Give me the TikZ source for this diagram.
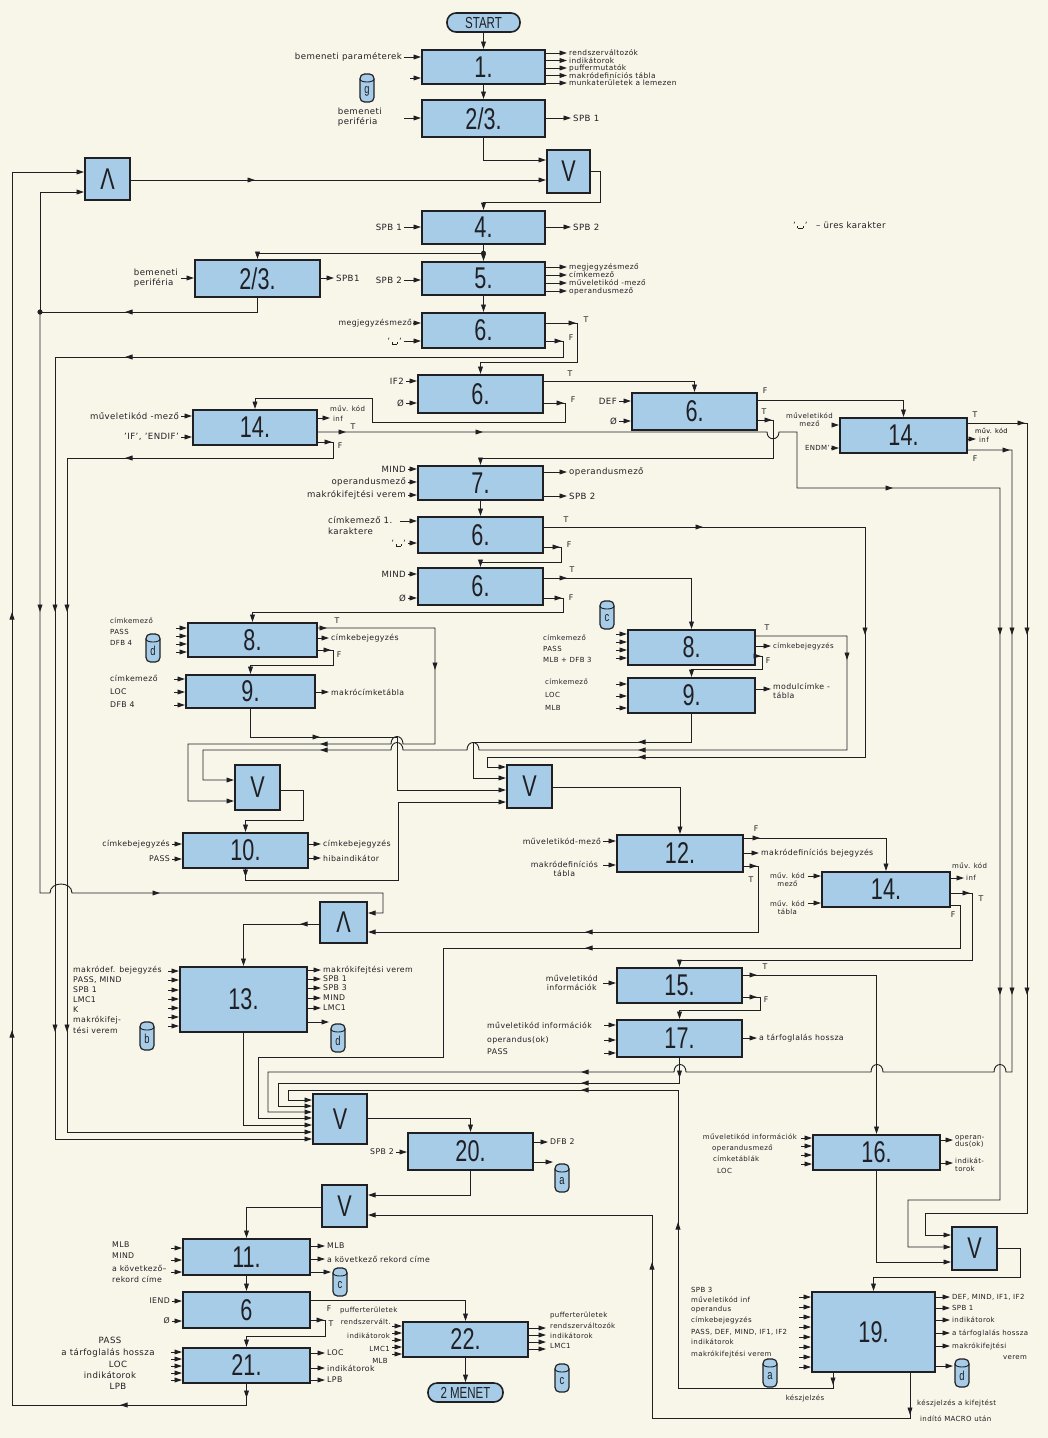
\documentclass[tikz,border=0pt]{standalone}
\usepackage{fontspec}
\setmainfont{DejaVu Sans}[LetterSpace=5]
\newfontfamily\numfont{Liberation Sans}[FakeStretch=0.72]
\usetikzlibrary{arrows.meta}
\definecolor{paper}{RGB}{248,245,233}
\definecolor{boxblue}{RGB}{166,204,231}
\definecolor{ink}{RGB}{32,32,36}
\newcommand\blank{\rule{.5pt}{2.5pt}\rule{5pt}{.5pt}\rule{.5pt}{2.5pt}}
\newcommand\blq{'\,\blank\,'}
\newcommand\bx[6]{\node[box,minimum width={(#4-#2)*1pt},minimum height={(#5-#3)*1pt}] (#1) at ({(#2+#4)/2},{(#3+#5)/2}) {#6};}
\newcommand\inp[4]{\draw[arr] (#3,#2) -- (#1.west |- 0,#2); \node[lab,anchor=east] at ({#3-2},#2) {#4};}
\newcommand\ins[4]{\draw[arr] (#3,#2) -- (#1.west |- 0,#2); \node[sml,anchor=east] at ({#3-2},#2) {#4};}
\newcommand\ina[3]{\draw[arr] (#3,#2) -- (#1.west |- 0,#2);}
\newcommand\outp[4]{\draw[arr] (#1.east |- 0,#2) -- (#3,#2); \node[lab,anchor=west] at ({#3+2},#2) {#4};}
\newcommand\outs[4]{\draw[arr] (#1.east |- 0,#2) -- (#3,#2); \node[sml,anchor=west] at ({#3+2},#2) {#4};}
\newcommand\outt[4]{\draw[arr] (#1.east |- 0,#2) -- (#3,#2); \node[tny,anchor=west] at ({#3+2},#2) {#4};}
\newcommand\outa[3]{\draw[arr] (#1.east |- 0,#2) -- (#3,#2);}
\newcommand\ahr[2]{\draw[arr] ({#1-6},#2) -- (#1,#2);}
\newcommand\ahl[2]{\draw[arr] ({#1+6},#2) -- (#1,#2);}
\newcommand\ahd[2]{\draw[arr] (#1,{#2-6}) -- (#1,#2);}
\newcommand\ahu[2]{\draw[arr] (#1,{#2+6}) -- (#1,#2);}
\newcommand\tf[3]{\node[sml] at (#1,#2) {#3};}
\newcommand\cyl[4]{%
  \draw[draw=ink,line width=1.2pt,fill=boxblue,rounded corners=4.5pt] ({#1-7},{#2-14}) rectangle ({#1+7},{#2+14});
  \draw[draw=ink,line width=0.9pt] ({#1-7},{#2-9}) .. controls ({#1-7},{#2-5}) and ({#1+7},{#2-5}) .. ({#1+7},{#2-9});
  \node[font=\numfont\fontsize{13}{13}\selectfont,text=ink,inner sep=0pt] (#4) at (#1,{#2+3}) {#3};}
\begin{document}
\begin{tikzpicture}[x=1pt,y=-1pt,
 ln/.style={draw=ink,line width=0.9pt},
 arr/.style={ln,-{Triangle[length=7.5pt,width=4.8pt]}},
 box/.style={draw=ink,line width=2pt,fill=boxblue,inner sep=0pt,font=\numfont\fontsize{30}{30}\selectfont,text=ink},
 term/.style={draw=ink,line width=1.6pt,fill=boxblue,rounded corners=9pt,inner sep=0pt,font=\numfont\fontsize{16}{16}\selectfont,text=ink},
 lab/.style={font=\fontsize{8.6}{9.6}\selectfont,inner sep=0pt,text=ink},
 sml/.style={font=\fontsize{7.8}{8.6}\selectfont,inner sep=0pt,text=ink},
 tny/.style={font=\fontsize{7}{7.6}\selectfont,inner sep=0pt,text=ink}]
\useasboundingbox (0,0) rectangle (1048,1438);
\fill[paper] (0,0) rectangle (1048,1438);

% ---------- boxes ----------
\node[term,minimum width=73pt,minimum height=19pt] (start) at (483.5,22.5) {START};
\bx{b1}{422}{50}{545}{84}{1.}
\bx{b23}{422}{100}{545}{137}{2/3.}
\bx{vA}{547}{150}{590}{193}{V}
\bx{b4}{422}{211}{545}{244}{4.}
\bx{b5}{422}{262}{545}{295}{5.}
\bx{b6a}{422}{313}{545}{348}{6.}
\bx{lamT}{85}{158}{130}{200}{Λ}
\bx{b23L}{195}{260}{320}{297}{2/3.}
\bx{b6b}{418}{375}{543}{413}{6.}
\bx{b6c}{632}{393}{757}{430}{6.}
\bx{b14a}{193}{410}{317}{445}{14.}
\bx{b14b}{840}{418}{967}{453}{14.}
\bx{b7}{418}{466}{543}{500}{7.}
\bx{b6d}{418}{517}{543}{553}{6.}
\bx{b6e}{418}{568}{543}{605}{6.}
\bx{b8a}{188}{623}{317}{657}{8.}
\bx{b9a}{186}{675}{315}{708}{9.}
\bx{b8b}{628}{630}{755}{665}{8.}
\bx{b9b}{628}{678}{755}{713}{9.}
\bx{vL}{235}{765}{280}{810}{V}
\bx{vC}{507}{765}{552}{808}{V}
\bx{b10}{183}{833}{308}{868}{10.}
\bx{b12}{617}{835}{743}{872}{12.}
\bx{b14c}{822}{872}{950}{907}{14.}
\bx{lamM}{320}{902}{367}{943}{Λ}
\bx{b13}{180}{967}{307}{1032}{13.}
\bx{b15}{617}{968}{742}{1003}{15.}
\bx{b17}{617}{1020}{742}{1057}{17.}
\bx{vB}{313}{1094}{367}{1144}{V}
\bx{b20}{408}{1133}{533}{1170}{20.}
\bx{b16}{813}{1135}{940}{1170}{16.}
\bx{vD}{322}{1185}{367}{1227}{V}
\bx{vR}{952}{1227}{997}{1270}{V}
\bx{b11}{183}{1239}{310}{1275}{11.}
\bx{b6f}{183}{1292}{310}{1328}{6}
\bx{b19}{812}{1292}{935}{1372}{19.}
\bx{b22}{403}{1322}{528}{1357}{22.}
\bx{b21}{183}{1348}{310}{1383}{21.}
\node[term,minimum width=75pt,minimum height=19pt] (menet) at (465.5,1392.5) {2 MENET};

% ---------- cylinders ----------
\cyl{367}{88}{g}{cg}
\cyl{153}{648}{d}{cd1}
\cyl{607}{615}{c}{cc1}
\cyl{147}{1036}{b}{cb}
\cyl{338}{1038}{d}{cd2}
\cyl{340}{1282}{c}{cc2}
\cyl{562}{1178}{a}{ca1}
\cyl{562}{1378}{c}{cc3}
\cyl{770}{1373}{a}{ca2}
\cyl{962}{1373}{d}{cd3}

% ---------- legend ----------
\node[lab,anchor=west] (leg) at (793,225) {\blq\quad – üres karakter};

% ---------- top column ----------
\draw[arr] (start.south) -- (b1.north);
\inp{b1}{57}{404}{bemeneti paraméterek}
\ina{b1}{78}{410}
\foreach \yy/\ll in {53/rendszerváltozók,60.5/indikátorok,68/puffermutatók,75.5/makródefiníciós tábla,83/munkaterületek a lemezen}
 {\draw[arr] (b1.east |- 0,\yy) -- (567,\yy); \node[font=\fontsize{7.4}{7.6}\selectfont,inner sep=0pt,text=ink,anchor=west] at (569,\yy) {\ll};}
\draw[arr] (b1.south) -- (b23.north);
\ina{b23}{118}{404}
\node[lab,anchor=east,align=left] at (382,117) {bemeneti\\periféria};
\outp{b23}{118}{571}{SPB 1}
\draw[arr] (b23.south) -- (b23.south |- 0,160) -- (vA.west |- 0,160);
\draw[arr] (lamT.east |- 0,180) -- (vA.west |- 0,180);
\ahr{255}{180}
\draw[arr] (vA.east |- 0,171) -- (600,171) -- (600,202) -- (b4.north |- 0,202) -- (b4.north);
\inp{b4}{227}{404}{SPB 1}
\outp{b4}{227}{571}{SPB 2}
\draw[arr] (b4.south) -- (b5.north);
\draw[arr] (b4.south |- 0,253) -- (b23L.north |- 0,253) -- (b23L.north);
\fill[ink] (b4.south |- 0,253) circle (2.4pt);
\ina{b23L}{278}{181}
\node[lab,anchor=east,align=left] at (178,278) {bemeneti\\periféria};
\outp{b23L}{278}{334}{SPB1}
\draw[ln] (b23L.south) -- (b23L.south |- 0,312) -- (40,312);
\ahl{125}{312}
\fill[ink] (40,312) circle (2.6pt);
\draw[arr] (40,312) -- (40,192) -- (lamT.west |- 0,192);
\draw[arr] (40,312) -- (40,893) -- (50,893) .. controls (50,881) and (72,881) .. (72,893) -- (383,893) -- (383,913) -- (lamM.east |- 0,913);
\ahd{40}{612} \ahr{160}{893}
\draw[arr] (b21.south) -- (b21.south |- 0,1405) -- (12,1405) -- (12,172) -- (lamT.west |- 0,172);
\ahd{246.5}{1398} \ahl{120}{1405} \ahu{12}{612} \ahu{12}{1030}

\inp{b5}{280}{404}{SPB 2}
\foreach \yy/\ll in {267/megjegyzésmező,275/címkemező,283/műveletikód -mező,291/operandusmező}
 {\draw[arr] (b5.east |- 0,\yy) -- (567,\yy); \node[font=\fontsize{7.4}{7.6}\selectfont,inner sep=0pt,text=ink,anchor=west] at (569,\yy) {\ll};}
\draw[arr] (b5.south) -- (b6a.north);
\draw[arr] (413,323) -- (b6a.west |- 0,323); \node[sml,anchor=east] at (412,323) {megjegyzésmező};
\inp{b6a}{341}{404}{\blq}
\draw[arr] (b6a.east |- 0,323) -- (577,323) -- (577,362) -- (b6b.north |- 0,362) -- (b6b.north);
\ahr{576}{323} \tf{586}{320}{T}
\draw[arr] (b6a.east |- 0,341) -- (563,341) -- (563,357) -- (55,357) -- (55,1139) -- (vB.west |- 0,1139);
\ahr{562}{341} \tf{571}{338}{F}
\ahl{125}{357} \ahd{55}{612} \ahd{55}{1032}

% ---------- 6b / 6c / 14a / 14b ----------
\inp{b6b}{381}{406}{IF2}
\inp{b6b}{403}{406}{Ø}
\draw[arr] (b6b.east |- 0,381) -- (b6c.north |- 0,381) -- (b6c.north);
\tf{570}{374}{T}
\draw[arr] (b6b.east |- 0,403) -- (565,403) -- (565,422) -- (372,422) -- (372,398) -- (b14a.north |- 0,398) -- (b14a.north);
\ahr{564}{403} \tf{573}{400}{F}

\inp{b6c}{401}{619}{DEF}
\inp{b6c}{421}{619}{Ø}
\draw[arr] (b6c.east |- 0,400) -- (b14b.north |- 0,400) -- (b14b.north);
\tf{765}{391}{F}
\draw[arr] (b6c.east |- 0,420) -- (773,420) -- (773,458) -- (b7.north |- 0,458) -- (b7.north);
\ahr{772}{420} \tf{764}{412}{T}

\draw[arr] (833,425) -- (b14b.west |- 0,425);
\node[tny,align=center,anchor=east] at (833,420) {műveletikód\\mező};
\draw[arr] (831,448) -- (b14b.west |- 0,448);
\node[tny,anchor=east] at (830,448) {ENDM'};
\draw[arr] (b14b.east |- 0,423) -- (1027,423) -- (1027,1213) -- (925,1213) -- (925,1235) -- (vR.west |- 0,1235);
\ahr{1025}{423} \tf{975}{415}{T}
\ahd{1027}{635} \ahd{1027}{995}
\draw[arr] (b14b.east |- 0,439) -- (976,439);
\node[font=\fontsize{6.5}{7}\selectfont,inner sep=0pt,anchor=west] at (975,431) {műv. kód};
\node[tny,anchor=west] at (979,440) {inf};
\draw[arr] (b14b.east |- 0,450) -- (1012,450) -- (1012,1072) -- (1006,1072) .. controls (1006,1062) and (994,1062) .. (994,1072) -- (883,1072) .. controls (883,1062) and (871,1062) .. (871,1072) -- (686,1072) .. controls (686,1062) and (674,1062) .. (674,1072) -- (268,1072) -- (268,1112) -- (vB.west |- 0,1112);
\ahr{1010}{450} \tf{975}{459}{F}
\ahd{1012}{635} \ahd{1012}{995} \ahl{581}{1072}

\inp{b14a}{416}{181}{műveletikód -mező}
\inp{b14a}{437}{181}{'IF', 'ENDIF'}
\draw[arr] (b14a.east |- 0,418) -- (330,418);
\node[tny,anchor=west] at (330,409) {műv. kód};
\node[tny,anchor=west] at (333,419) {inf};
\draw[arr] (b14a.east |- 0,432) -- (767,432) .. controls (767,441) and (779,441) .. (779,432) -- (797,432) -- (797,488) -- (1000,488) -- (1000,1200) -- (908,1200) -- (908,1247) -- (vR.west |- 0,1247);
\ahr{346}{432} \tf{353}{427}{T}
\ahr{483}{432} \ahr{893}{488} \ahd{1000}{635} \ahd{1000}{995}
\draw[arr] (b14a.east |- 0,442) -- (333,442) -- (333,458) -- (67,458) -- (67,1132) -- (vB.west |- 0,1132);
\ahr{332}{442} \tf{340}{446}{F}
\ahl{125}{458} \ahd{67}{612} \ahd{67}{1032}

% ---------- 7 / 6d / 6e ----------
\inp{b7}{469}{408}{MIND}
\inp{b7}{482}{408}{operandusmező}
\inp{b7}{495}{408}{makrókifejtési verem}
\outp{b7}{472}{567}{operandusmező}
\outp{b7}{496}{567}{SPB 2}
\draw[arr] (b7.south) -- (b6d.north);

\ina{b6d}{521}{400}
\node[lab,anchor=west] at (328,520) {címkemező 1.};
\node[lab,anchor=west] at (328,531) {karaktere};
\inp{b6d}{543}{408}{\blq}
\draw[arr] (b6d.east |- 0,527) -- (865,527) -- (865,757) -- (487,757) -- (487,767) -- (vC.west |- 0,767);
\tf{566}{520}{T} \ahr{703}{527} \ahd{865}{635} \ahl{638}{757}
\draw[arr] (b6d.east |- 0,547) -- (561,547) -- (561,562) -- (b6e.north |- 0,562) -- (b6e.north);
\ahr{560}{547} \tf{569}{545}{F}

\inp{b6e}{574}{408}{MIND}
\inp{b6e}{598}{408}{Ø}
\draw[arr] (b6e.east |- 0,578) -- (b8b.north |- 0,578) -- (b8b.north);
\ahr{567}{578} \tf{572}{570}{T}
\draw[arr] (b6e.east |- 0,598) -- (563,598) -- (563,612) -- (b8a.north |- 0,612) -- (b8a.north);
\ahr{562}{598} \tf{571}{598}{F}

% ---------- 8 / 9 left ----------
\foreach \yy in {628,636,644,652} {\draw[arr] (176,\yy) -- (b8a.west |- 0,\yy);}
\node[tny,anchor=west] at (110,621) {címkemező};
\node[tny,anchor=west] at (110,632) {PASS};
\node[tny,anchor=west] at (110,643) {DFB 4};
\draw[arr] (b8a.east |- 0,628) -- (435,628) -- (435,744) -- (403,744) .. controls (403,734) and (391,734) .. (391,744) -- (188,744) -- (188,801) -- (vL.west |- 0,801);
\ahr{327}{628} \tf{337}{621}{T} \ahd{435}{670} \ahl{320}{744}
\outs{b8a}{638}{329}{címkebejegyzés}
\draw[arr] (b8a.east |- 0,650) -- (333,650) -- (333,665) -- (b9a.north |- 0,665) -- (b9a.north);
\ahr{331}{650} \tf{339}{655}{F}
\foreach \yy in {679,692,705} {\draw[arr] (174,\yy) -- (b9a.west |- 0,\yy);}
\node[sml,anchor=west] at (110,678) {címkemező};
\node[sml,anchor=west] at (110,692) {LOC};
\node[sml,anchor=west] at (110,705) {DFB 4};
\outs{b9a}{692}{329}{makrócímketábla}
\draw[arr] (b9a.south) -- (b9a.south |- 0,737) -- (397,737) -- (397,790) -- (vC.west |- 0,790);
\ahr{320}{737}

% ---------- 8 / 9 right ----------
\foreach \yy in {634,642,650,658} {\draw[arr] (616,\yy) -- (b8b.west |- 0,\yy);}
\node[tny,anchor=west] at (543,638) {címkemező};
\node[tny,anchor=west] at (543,649) {PASS};
\node[tny,anchor=west] at (543,660) {MLB + DFB 3};
\draw[arr] (b8b.east |- 0,636) -- (847,636) -- (847,750) -- (479,750) .. controls (479,740) and (467,740) .. (467,750) -- (403,750) .. controls (403,740) and (391,740) .. (391,750) -- (203,750) -- (203,780) -- (vL.west |- 0,780);
\tf{767}{628}{T} \ahd{847}{660} \ahl{638}{750} \ahl{320}{750}
\outt{b8b}{646}{771}{címkebejegyzés}
\draw[arr] (b8b.east |- 0,656) -- (762,656) -- (762,669) -- (b9b.north |- 0,669) -- (b9b.north);
\ahr{761}{656} \tf{768}{661}{F}
\foreach \yy in {684,696,708} {\draw[arr] (616,\yy) -- (b9b.west |- 0,\yy);}
\node[tny,anchor=west] at (545,682) {címkemező};
\node[tny,anchor=west] at (545,695) {LOC};
\node[tny,anchor=west] at (545,708) {MLB};
\outa{b9b}{689}{771}
\node[sml,anchor=north west,align=left] at (773,683) {modulcímke -\\tábla};
\draw[arr] (b9b.south) -- (b9b.south |- 0,742) -- (473,742) -- (473,778) -- (vC.west |- 0,778);
\ahl{638}{742}

% ---------- V left / 10 / V center / 12 ----------
\draw[arr] (vL.east |- 0,790) -- (303,790) -- (303,820) -- (b10.north |- 0,820) -- (b10.north);
\ins{b10}{844}{172}{címkebejegyzés}
\ins{b10}{859}{172}{PASS}
\outs{b10}{844}{321}{címkebejegyzés}
\outs{b10}{858}{321}{hibaindikátor}
\draw[arr] (b10.south) -- (b10.south |- 0,880) -- (398,880) -- (398,802) -- (vC.west |- 0,802);
\ahd{245.5}{877}
\draw[arr] (vC.east |- 0,787) -- (b12.north |- 0,787) -- (b12.north);

\ins{b12}{841}{603}{műveletikód-mező}
\ina{b12}{865}{603}
\node[sml,align=center,anchor=east] at (598,869) {makródefiníciós\\tábla};
\draw[arr] (b12.east |- 0,838) -- (b14c.north |- 0,838) -- (b14c.north);
\ahr{760}{838} \tf{756}{829}{F}
\outs{b12}{853}{759}{makródefiníciós bejegyzés}
\draw[arr] (b12.east |- 0,866) -- (758,866) -- (758,932) -- (lamM.east |- 0,932);
\ahr{757}{866} \tf{751}{880}{T} \ahl{585}{932}

\ina{b14c}{876}{808}
\node[tny,align=center,anchor=east] at (805,880) {műv. kód\\mező};
\ina{b14c}{903}{808}
\node[tny,align=center,anchor=east] at (805,908) {műv. kód\\tábla};
\draw[arr] (b14c.east |- 0,878) -- (964,878);
\node[tny,anchor=west] at (966,878) {inf};
\node[tny,anchor=west] at (952,866) {műv. kód};
\draw[arr] (b14c.east |- 0,893) -- (972,893) -- (972,960) -- (b15.north |- 0,960) -- (b15.north);
\ahr{970}{893} \tf{981}{899}{T}
\draw[arr] (b14c.east |- 0,905) -- (960,905) -- (960,948) -- (443,948) -- (443,1057) -- (258,1057) -- (258,1118) -- (vB.west |- 0,1118);
\tf{953}{915}{F} \ahl{585}{948}

% ---------- Lambda mid / 13 ----------
\draw[arr] (lamM.west |- 0,924) -- (b13.north |- 0,924) -- (b13.north);
\ahl{300}{924}
\foreach \yy in {971,980,990,999,1008,1017,1026} {\draw[arr] (168,\yy) -- (b13.west |- 0,\yy);}
\node[sml,anchor=west] at (73,970) {makródef. bejegyzés};
\node[sml,anchor=west] at (73,980) {PASS, MIND};
\node[sml,anchor=west] at (73,990) {SPB 1};
\node[sml,anchor=west] at (73,1000) {LMC1};
\node[sml,anchor=west] at (73,1010) {K};
\node[sml,anchor=west] at (73,1020) {makrókifej-};
\node[sml,anchor=west] at (73,1030) {tési verem};
\outs{b13}{970}{321}{makrókifejtési verem}
\outs{b13}{979}{321}{SPB 1}
\outs{b13}{988}{321}{SPB 3}
\outs{b13}{998}{321}{MIND}
\outs{b13}{1008}{321}{LMC1}
\outa{b13}{1022}{329}
\draw[arr] (b13.south) -- (b13.south |- 0,1125) -- (vB.west |- 0,1125);

% ---------- 15 / 17 ----------
\ina{b15}{983}{603}
\node[sml,align=center,anchor=east] at (598,983) {műveletikód\\információk};
\draw[arr] (b15.east |- 0,975) -- (b16.north |- 0,975) -- (b16.north);
\ahr{757}{975} \tf{765}{967}{T}
\draw[arr] (b15.east |- 0,997) -- (760,997) -- (760,1010) -- (b17.north |- 0,1010) -- (b17.north);
\ahr{757}{997} \tf{766}{1000}{F}
\foreach \yy in {1025,1040,1053} {\draw[arr] (604,\yy) -- (b17.west |- 0,\yy);}
\node[sml,anchor=west] at (487,1025) {műveletikód információk};
\node[sml,anchor=west] at (487,1040) {operandus(ok)};
\node[sml,anchor=west] at (487,1052) {PASS};
\outs{b17}{1038}{757}{a tárfoglalás hossza}
\draw[arr] (b17.south) -- (b17.south |- 0,1083) -- (278,1083) -- (278,1106) -- (vB.west |- 0,1106);
\ahd{679.5}{1078} \ahl{581}{1083}

% ---------- V bottom / 20 / V2 ----------
\draw[arr] (vB.east |- 0,1118) -- (b20.north |- 0,1118) -- (b20.north);
\ins{b20}{1152}{396}{SPB 2}
\outs{b20}{1142}{548}{DFB 2}
\outa{b20}{1162}{553}
\draw[arr] (b20.south) -- (b20.south |- 0,1195) -- (vD.east |- 0,1195);
\draw[arr] (vD.west |- 0,1207) -- (b11.north |- 0,1207) -- (b11.north);

% ---------- 11 / 6 / 21 / 22 ----------
\foreach \yy in {1248,1260,1272} {\draw[arr] (171,\yy) -- (b11.west |- 0,\yy);}
\node[sml,anchor=west] at (112,1245) {MLB};
\node[sml,anchor=west] at (112,1256) {MIND};
\node[sml,anchor=west] at (112,1268) {a következő–};
\node[sml,anchor=west] at (112,1279) {rekord címe};
\outs{b11}{1246}{325}{MLB}
\outs{b11}{1259}{325}{a következő rekord címe}
\outa{b11}{1272}{331}
\draw[arr] (b11.south) -- (b6f.north);
\ins{b6f}{1301}{172}{IEND}
\ins{b6f}{1321}{172}{Ø}
\draw[arr] (b6f.east |- 0,1300) -- (b22.north |- 0,1300) -- (b22.north);
\tf{329}{1309}{F}
\draw[arr] (b6f.east |- 0,1320) -- (325,1320) -- (325,1336) -- (b21.north |- 0,1336) -- (b21.north);
\ahr{324}{1320} \tf{331}{1324}{T}
\foreach \yy in {1352,1359,1366,1373,1380} {\draw[arr] (171,\yy) -- (b21.west |- 0,\yy);}
\node[lab,align=center] at (110,1340) {PASS};
\node[lab,align=center] at (108,1353) {a tárfoglalás hossza};
\node[lab,align=center] at (118,1364) {LOC};
\node[lab,align=center] at (110,1375) {indikátorok};
\node[lab,align=center] at (118,1386) {LPB};
\outs{b21}{1353}{325}{LOC}
\outs{b21}{1368}{325}{indikátorok}
\outs{b21}{1380}{325}{LPB}
\foreach \yy in {1326,1333,1340,1347,1354} {\draw[arr] (392,\yy) -- (b22.west |- 0,\yy);}
\node[tny,anchor=west] at (340,1311) {pufferterületek};
\node[tny,anchor=east] at (391,1322) {rendszervált.};
\node[tny,anchor=east] at (390,1336) {indikátorok};
\node[tny,anchor=east] at (390,1349) {LMC1};
\node[tny,anchor=east] at (388,1361) {MLB};
\foreach \yy in {1328,1335,1342,1349} {\draw[arr] (b22.east |- 0,\yy) -- (546,\yy);}
\node[tny,anchor=west] at (550,1316) {pufferterületek};
\node[tny,anchor=west] at (550,1326) {rendszerváltozók};
\node[tny,anchor=west] at (550,1336) {indikátorok};
\node[tny,anchor=west] at (550,1346) {LMC1};
\draw[arr] (b22.south) -- (menet.north);

% ---------- 16 / V right / 19 ----------
\foreach \yy in {1138,1146,1155,1164} {\draw[arr] (801,\yy) -- (b16.west |- 0,\yy);}
\node[tny,anchor=east] at (797,1137) {műveletikód információk};
\node[tny,anchor=west] at (712,1148) {operandusmező};
\node[tny,anchor=west] at (713,1159) {címketáblák};
\node[tny,anchor=west] at (717,1171) {LOC};
\outa{b16}{1140}{953}
\node[tny,anchor=north west,align=left] at (955,1135) {operan-\\dus(ok)};
\outa{b16}{1163}{953}
\node[tny,anchor=north west,align=left] at (955,1158) {indikát-\\torok};
\draw[arr] (b16.south) -- (b16.south |- 0,1262) -- (vR.west |- 0,1262);
\draw[arr] (vR.east |- 0,1248) -- (1020,1248) -- (1020,1277) -- (b19.north |- 0,1277) -- (b19.north);
\foreach \yy in {1297,1307,1317,1327,1337,1347,1357,1367} {\draw[arr] (799,\yy) -- (b19.west |- 0,\yy);}
\node[tny,anchor=west] at (691,1290) {SPB 3};
\node[tny,anchor=west] at (691,1300) {műveletikód inf};
\node[tny,anchor=west] at (691,1310) {operandus};
\node[tny,anchor=west] at (691,1320) {címkebejegyzés};
\node[tny,anchor=west] at (691,1332) {PASS, DEF, MIND, IF1, IF2};
\node[tny,anchor=west] at (691,1342) {indikátorok};
\node[tny,anchor=west] at (691,1354) {makrókifejtési verem};
\outt{b19}{1297}{950}{DEF, MIND, IF1, IF2}
\outt{b19}{1308}{950}{SPB 1}
\outt{b19}{1320}{950}{indikátorok}
\outt{b19}{1333}{950}{a tárfoglalás hossza}
\outt{b19}{1346}{950}{makrókifejtési}
\node[tny,anchor=west] at (1003,1358) {verem};
\outa{b19}{1366}{953}
\draw[arr] (b19.south -| 833,0) -- (833,1388) -- (678,1388) -- (678,1090) -- (288,1090) -- (288,1100) -- (vB.west |- 0,1100);
\ahd{833}{1385} \ahu{678}{1222} \ahl{581}{1090}
\draw[arr] (b19.south -| 910,0) -- (910,1418) -- (652,1418) -- (652,1215) -- (vD.east |- 0,1215);
\ahd{910}{1415} \ahu{652}{1262}
\node[tny] at (805,1398) {készjelzés};
\node[tny,anchor=west] at (917,1403) {készjelzés a kifejtést};
\node[tny,anchor=west] at (920,1419) {indító MACRO után};
\end{tikzpicture}
\end{document}
